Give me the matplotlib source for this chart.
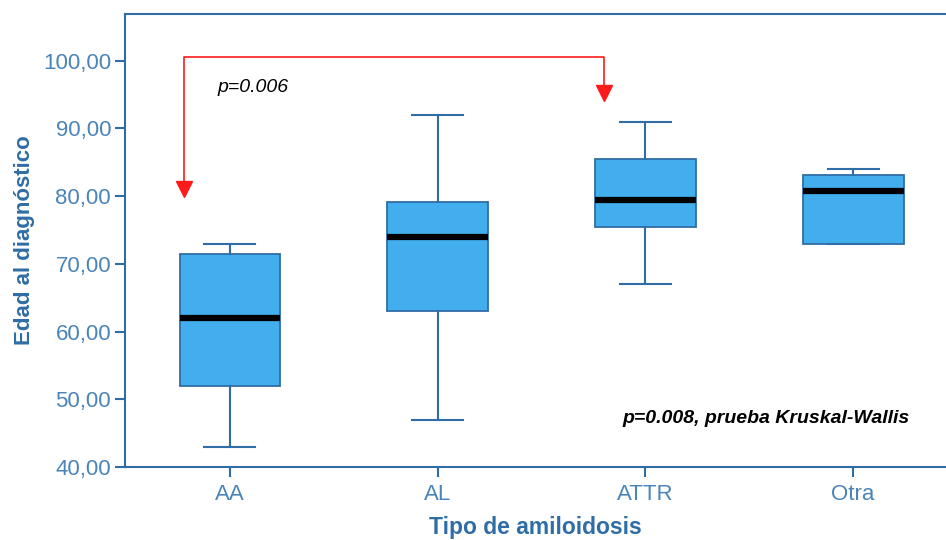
import matplotlib
matplotlib.use("Agg")
import matplotlib.pyplot as plt

plt.rcParams['font.family'] = ['Liberation Sans', 'DejaVu Sans']

# box statistics
categories = ["AA", "AL", "ATTR", "Otra"]
whislo = [43.0, 47.0, 67.0, 73.0]
q1 = [52.0, 63.0, 75.5, 73.0]
med = [62.0, 74.0, 79.5, 80.8]
q3 = [71.5, 79.2, 85.5, 83.1]
whishi = [73.0, 92.0, 91.0, 84.0]
yticks = [40, 50, 60, 70, 80, 90, 100]

blue = "#2f6da6"
fill = "#42aeee"

stats = []
for i in range(len(categories)):
    stats.append({"label": categories[i], "whislo": whislo[i], "q1": q1[i],
                  "med": med[i], "q3": q3[i], "whishi": whishi[i], "fliers": []})

fig = plt.figure(figsize=(9.46, 5.4), dpi=100)
ax = fig.add_axes([125 / 946, 73 / 540, 832 / 946, 453 / 540])

ax.bxp(stats, positions=range(len(categories)), widths=0.485, patch_artist=True,
       showfliers=False,
       boxprops=dict(facecolor=fill, edgecolor=blue, linewidth=1.3),
       whiskerprops=dict(color=blue, linewidth=1.5),
       capprops=dict(color=blue, linewidth=1.5),
       medianprops=dict(color="black", linewidth=4.5, solid_capstyle="butt"),
       capwidths=0.245)

ax.set_xlim(-0.505, 3.5)
ax.set_ylim(40, 106.9)
ax.set_yticks(yticks)
ax.set_yticklabels([f"{v:.2f}".replace(".", ",") for v in yticks])
ax.set_xticks(range(len(categories)))
ax.set_xticklabels(categories)

for s in ["left", "top", "bottom"]:
    ax.spines[s].set_color(blue)
    ax.spines[s].set_linewidth(1.5)
ax.spines["right"].set_visible(False)
ax.tick_params(colors=blue, labelcolor="#4a84b8", labelsize=16, length=7, width=1.5)
ax.tick_params(axis="x", pad=5)
ax.tick_params(axis="y", pad=3)

ax.set_ylabel("Edad al diagnóstico", color=blue, fontsize=16, fontweight="bold")
ax.yaxis.set_label_coords(-90 / 832, 0.5)
ax.set_xlabel("Tipo de amiloidosis", color=blue, fontsize=16.5, fontweight="bold")
ax.xaxis.set_label_coords(410 / 832, -49 / 453)

# red bracket between AA and ATTR
red = "#ff1a1a"
bx0, bx1, by = -0.22, 1.80, 100.6
ax.plot([bx0, bx0, bx1, bx1], [82.0, by, by, 96.2], color=red, linewidth=1.2)
ax.plot([bx0], [81.0], marker="v", color=red, markersize=11, linestyle="none")
ax.plot([bx1], [95.3], marker="v", color=red, markersize=11, linestyle="none")

ax.text(-0.06, 96.1, "p=0.006", fontsize=14, fontstyle="italic", va="center", ha="left")
ax.text(1.89, 47.2, "p=0.008, prueba Kruskal-Wallis", fontsize=14, fontstyle="italic",
        fontweight="bold", va="center", ha="left")

fig.savefig("out.png", dpi=100)
